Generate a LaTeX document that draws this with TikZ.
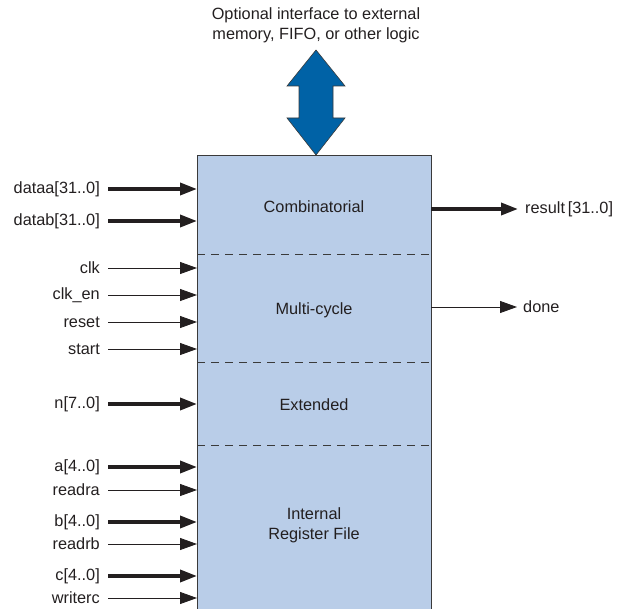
\documentclass[tikz,border=0pt]{standalone}
\usepackage{fontspec}
\setmainfont{Liberation Sans}
\usetikzlibrary{arrows.meta,calc}
\definecolor{boxfill}{HTML}{B9CDE8}
\definecolor{edge}{HTML}{3A3A3A}
\definecolor{txt}{HTML}{231F20}
\definecolor{bigblue}{HTML}{0062A6}
\begin{document}
\begin{tikzpicture}[x=1pt,y=-1pt,
  lbl/.style={font=\fontsize{16.3}{20}\selectfont, text=txt, inner sep=0pt},
  inlbl/.style={lbl, anchor=east},
  outlbl/.style={lbl, anchor=west},
  bus/.style={line width=3.6pt, draw=txt, -{Triangle[length=17pt,width=12pt]}},
  sig/.style={line width=0.9pt, draw=txt, -{Triangle[length=17pt,width=12pt]}},
  sep/.style={draw=edge, line width=0.8pt, dash pattern=on 8pt off 6pt}]
\useasboundingbox (0,0) rectangle (620,609);
% core block
\node[fill=boxfill, draw=none, minimum width=234pt, minimum height=460pt, inner sep=0pt, anchor=north west] (core) at (197,155) {};
\draw[edge, line width=0.9pt] (197,609) -- (197,155) -- (431,155) -- (431,609);
\draw[sep] (197,254) -- (431,254);
\draw[sep] (197,362) -- (431,362);
\draw[sep] (197,445) -- (431,445);
% section labels
\node[lbl] (comb) at (314,207) {Combinatorial};
\node[lbl] (multi) at (314,310) {Multi-cycle};
\node[lbl] (ext) at (314,405) {Extended};
\node[lbl, align=center] (regf) at (314,525) {Internal\\Register File};
% top double arrow
\draw[fill=bigblue, draw=edge, line width=0.6pt, line join=miter]
  (316,50) -- (345,86) -- (333,86) -- (333,118) -- (345,118) -- (316,155)
  -- (287,118) -- (299,118) -- (299,86) -- (287,86) -- cycle;
\node[lbl, align=center] (opt) at (316,25) {Optional interface to external\\memory, FIFO, or other logic};
% left inputs
\foreach \nm/\y/\txt/\st in {dataa/189/{dataa[31..0]}/bus, datab/221/{datab[31..0]}/bus,
  clk/268/clk/sig, clken/295/{clk\_en}/sig, reset/322/reset/sig, start/349/start/sig,
  n/404/{n[7..0]}/bus, a/467/{a[4..0]}/bus, readra/490/readra/sig,
  b/522/{b[4..0]}/bus, readrb/544/readrb/sig, c/576/{c[4..0]}/bus, writerc/598/writerc/sig}{
  \node[inlbl] (\nm) at (100,\y) {\txt};
  \coordinate (\nm-s) at (108,\y);
  \draw[\st] (\nm-s) -- (core.west |- \nm-s);
}
% right outputs
\node[outlbl] (result) at (525,209) {result\,[31..0]};
\node[outlbl] (done) at (523,307) {done};
\draw[bus] (core.east |- result.west) -- ([xshift=-7pt]result.west);
\draw[sig] (core.east |- done.west) -- ([xshift=-6pt]done.west);
\end{tikzpicture}
\end{document}
